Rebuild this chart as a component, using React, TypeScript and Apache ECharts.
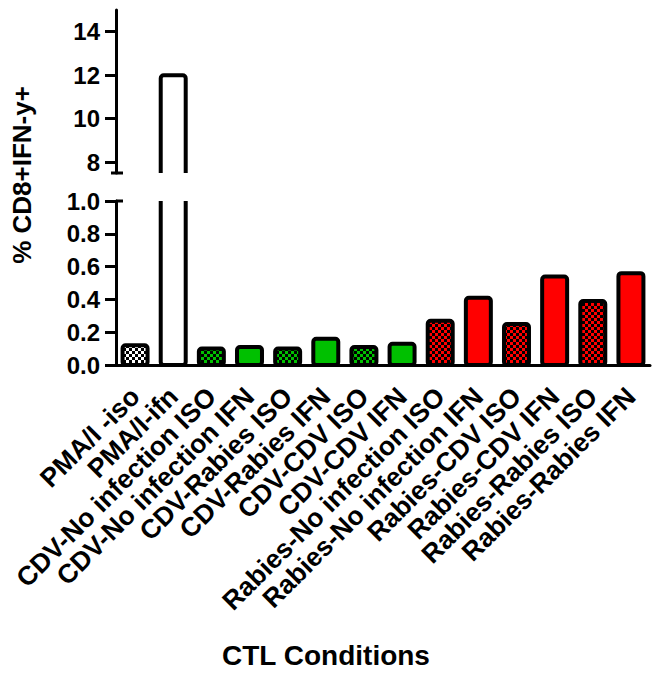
import React, { useEffect, useRef } from "react";
import * as echarts from "echarts";

const categories = [
  "PMA/I -iso",
  "PMA/I-ifn",
  "CDV-No infection ISO",
  "CDV-No infection IFN",
  "CDV-Rabies ISO",
  "CDV-Rabies IFN",
  "CDV-CDV ISO",
  "CDV-CDV IFN",
  "Rabies-No infection ISO",
  "Rabies-No infection IFN",
  "Rabies-CDV ISO",
  "Rabies-CDV IFN",
  "Rabies-Rabies ISO",
  "Rabies-Rabies IFN",
];
const values = [0.12, 12, 0.1, 0.11, 0.1, 0.16, 0.11, 0.13, 0.27, 0.41, 0.25, 0.54, 0.39, 0.56];
const upperRange = [7.5, 15];
const upperTicks = [8, 10, 12, 14];
const lowerRange = [0, 1.0];
const lowerInterval = 0.2;
const yTitle = "% CD8+IFN-y+";
const xTitle = "CTL Conditions";

const FONT = "'Liberation Sans', Arial, sans-serif";
const GL = 116;
const GR = 3;
const UP_TOP = 10;
const UP_H = 163;
const LO_TOP = 201;
const LO_H = 164;

function groupColor(name: string) {
  if (name.startsWith("PMA")) return "#ffffff";
  if (name.startsWith("CDV")) return "#00c000";
  return "#ff0000";
}

function checker(color: string): any {
  const c = document.createElement("canvas");
  c.width = 6;
  c.height = 6;
  const ctx = c.getContext("2d")!;
  ctx.fillStyle = "#000";
  ctx.fillRect(0, 0, 6, 6);
  ctx.fillStyle = color;
  ctx.fillRect(0, 0, 3, 3);
  ctx.fillRect(3, 3, 3, 3);
  return { image: c.toDataURL(), repeat: "repeat", imageWidth: 6, imageHeight: 6 };
}

export default function App() {
  const ref = useRef<HTMLDivElement>(null);
  useEffect(() => {
    if (!ref.current) return;
    const chart = echarts.init(ref.current, undefined, { renderer: "svg" });
    const patterns: Record<string, any> = {};
    const fillFor = (name: string) => {
      const col = groupColor(name);
      if (/iso/i.test(name)) {
        if (!patterns[col]) patterns[col] = checker(col);
        return patterns[col];
      }
      return col;
    };
    const renderItem = (params: any, api: any) => {
      const idx = api.value(0);
      const val = api.value(1);
      const top = api.coord([idx, val]);
      const base = api.coord([idx, 0]);
      const bw = api.size([1, 0])[0] * 0.655;
      return {
        type: "rect",
        shape: { x: top[0] - bw / 2, y: top[1], width: bw, height: base[1] - top[1], r: 3 },
        style: { fill: fillFor(categories[idx]), stroke: "#000", lineWidth: 4 },
      };
    };
    const axisLineStyle = { color: "#000", width: 3 };
    const seriesData = values.map((v, i) => [i, v]);
    const yLabel = {
      color: "#000",
      fontSize: 24,
      fontWeight: "bold" as const,
      fontFamily: FONT,
      margin: 16,
    };
    chart.setOption({
      animation: false,
      grid: [
        { left: GL, right: GR, top: UP_TOP, height: UP_H },
        { left: GL, right: GR, top: LO_TOP, height: LO_H },
      ],
      xAxis: [
        { type: "category", gridIndex: 0, data: categories, show: false },
        {
          type: "category",
          gridIndex: 1,
          data: categories,
          axisLine: { lineStyle: axisLineStyle },
          axisTick: { alignWithLabel: true, length: 11, lineStyle: axisLineStyle },
          axisLabel: {
            rotate: 45,
            interval: 0,
            margin: 27,
            fontSize: 26.5,
            fontWeight: "bold",
            color: "#000",
            fontFamily: FONT,
          },
        },
      ],
      yAxis: [
        {
          type: "value",
          gridIndex: 0,
          min: upperRange[0],
          max: upperRange[1],
          axisLine: { show: true, lineStyle: axisLineStyle },
          axisTick: { show: true, length: 11, lineStyle: axisLineStyle, customValues: upperTicks },
          axisLabel: { ...yLabel, customValues: upperTicks },
          splitLine: { show: false },
        },
        {
          type: "value",
          gridIndex: 1,
          min: lowerRange[0],
          max: lowerRange[1],
          interval: lowerInterval,
          axisLine: { show: true, lineStyle: axisLineStyle },
          axisTick: { show: true, length: 11, lineStyle: axisLineStyle },
          axisLabel: { ...yLabel, formatter: (v: number) => v.toFixed(1) },
          splitLine: { show: false },
        },
      ],
      series: [
        {
          type: "custom",
          xAxisIndex: 0,
          yAxisIndex: 0,
          clip: true,
          renderItem,
          encode: { x: 0, y: 1 },
          data: seriesData,
        },
        {
          type: "custom",
          xAxisIndex: 1,
          yAxisIndex: 1,
          clip: true,
          renderItem,
          encode: { x: 0, y: 1 },
          data: seriesData,
        },
      ],
      graphic: [
        {
          type: "line",
          shape: { x1: GL - 5, y1: UP_TOP + UP_H, x2: GL + 7, y2: UP_TOP + UP_H },
          style: { stroke: "#000", lineWidth: 3 },
        },
        {
          type: "line",
          shape: { x1: GL, y1: LO_TOP, x2: GL + 7, y2: LO_TOP },
          style: { stroke: "#000", lineWidth: 3 },
        },
        {
          type: "text",
          x: 22,
          y: 175,
          rotation: Math.PI / 2,
          style: {
            text: yTitle,
            fontSize: 26,
            fontWeight: "bold",
            fontFamily: FONT,
            fill: "#000",
            align: "center",
            verticalAlign: "middle",
          },
        },
        {
          type: "text",
          x: 326,
          y: 655,
          style: {
            text: xTitle,
            fontSize: 28,
            fontWeight: "bold",
            fontFamily: FONT,
            fill: "#000",
            align: "center",
            verticalAlign: "middle",
          },
        },
      ],
    });
    return () => chart.dispose();
  }, []);
  return (
    <div
      ref={ref}
      style={{ position: "fixed", left: 0, top: 0, width: 653, height: 677, background: "#fff" }}
    />
  );
}
